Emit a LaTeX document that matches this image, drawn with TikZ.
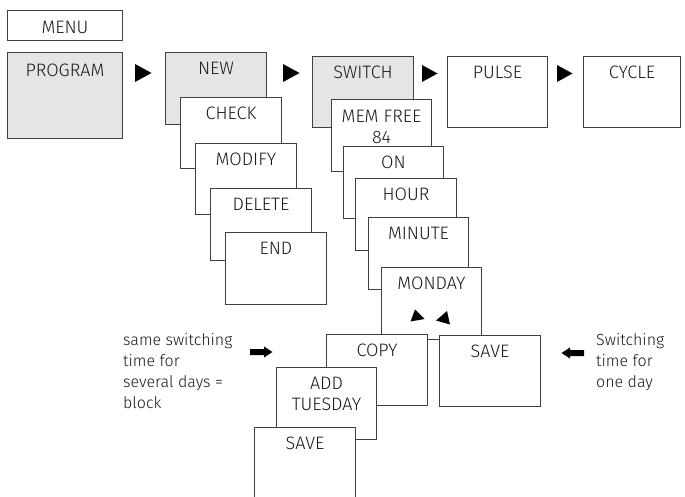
\documentclass[tikz,border=0pt]{standalone}
\usepackage{fontspec}
\setmainfont{Fira Sans Light}
\begin{document}
\begin{tikzpicture}[x=1pt,y=-1pt,
  box/.style={draw=black!75, line width=1pt, fill=white, rectangle, anchor=north west,
    inner sep=0pt, minimum width=101pt, minimum height=72pt},
  gbox/.style={box, fill=black!10},
  lbl/.style={font=\fontsize{18}{21}\selectfont, text=black!90, inner sep=0pt},
  side/.style={font=\fontsize{16}{21}\selectfont, text=black!90, inner sep=0pt},
  tl/.style={label={[lbl,anchor=center,yshift=-16.5pt]north:#1}},
  tri/.style={fill=black, draw=none},
  fat/.style={fill=black, draw=none}]
\useasboundingbox (0,0) rectangle (685,497);

% top row
\node[box, minimum width=115pt, minimum height=30pt,
  label={[lbl,anchor=center,yshift=-17pt]north:MENU}] (menu) at (7,10) {};
\node[gbox, minimum width=115pt, minimum height=86pt,
  label={[lbl,anchor=center,yshift=-18pt]north:PROGRAM}] (program) at (7,52) {};

% NEW column
\node[gbox, tl=NEW] (new) at (165,52) {};
\node[box, minimum height=71pt, tl=CHECK] (check) at (180,97) {};
\node[box, minimum height=71pt, tl=MODIFY] (modify) at (195,143) {};
\node[box, tl=DELETE] (delete) at (210,188) {};
\node[box, tl=END] (end) at (225,232) {};

% SWITCH column
\node[gbox, minimum height=71pt, tl=SWITCH] (switch) at (312,56) {};
\node[box, minimum width=100pt, minimum height=71pt, tl=PULSE] (pulse) at (447,56) {};
\node[box, minimum width=97pt, minimum height=71pt, tl=CYCLE] (cycle) at (583,56) {};
\node[box, minimum width=100pt,
  label={[lbl,align=center,anchor=center,yshift=-27.5pt]north:{MEM FREE\\84}}] (mem) at (331,99) {};
\node[box, minimum width=100pt, tl=ON] (on) at (343,146) {};
\node[box, tl=HOUR] (hour) at (355,178) {};
\node[box, minimum width=100pt, tl=MINUTE] (minute) at (368,217) {};
\node[box, minimum width=100pt, tl=MONDAY] (monday) at (381,267) {};
\node[box, minimum height=71pt, tl=COPY] (copy) at (326,334) {};
\node[box, minimum height=71pt, tl=SAVE] (save1) at (439,335) {};
\node[box, minimum width=100pt,
  label={[lbl,align=center,anchor=center,yshift=-27pt]north:{ADD\\TUESDAY}}] (add) at (276,367) {};
\node[box, minimum height=100pt, tl=SAVE] (save2) at (254,427) {};

% small triangles between top boxes
\fill[tri] (135,64) -- (151.5,73) -- (135,82) -- cycle;
\fill[tri] (283,64) -- (299.5,73) -- (283,82) -- cycle;
\fill[tri] (422,65) -- (437.5,73.5) -- (422,82) -- cycle;
\fill[tri] (557,65) -- (572.5,73.5) -- (557,82) -- cycle;

% triangles in MONDAY
\fill[tri] (410.5,321.5) -- (415,309.5) -- (424.5,319) -- cycle;
\fill[tri] (436,320.5) -- (447,311) -- (450,324.5) -- cycle;

% fat arrows
\fill[fat] (250,349) -- (264,349) -- (264,346.5) -- (272.5,352) -- (264,357.5) -- (264,355) -- (250,355) -- cycle;
\fill[fat] (584,350) -- (570,350) -- (570,347.5) -- (561.5,353) -- (570,358.5) -- (570,356) -- (584,356) -- cycle;

% side texts
\node[side, align=left, anchor=north west] (ltext) at (123,333)
  {same switching\\time for\\several days =\\block};
\node[side, align=left, anchor=north west] (rtext) at (596,333)
  {Switching\\time for\\one day};
\end{tikzpicture}
\end{document}
